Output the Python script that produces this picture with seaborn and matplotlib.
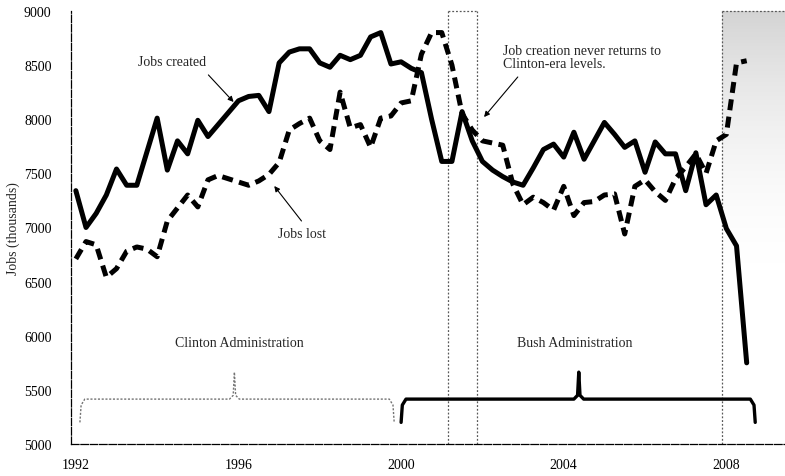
"""
Jobs created vs jobs lost, quarterly, 1992-2008
"""

import numpy as np
import pandas as pd
import seaborn as sns
import matplotlib
matplotlib.use("Agg")
import matplotlib.pyplot as plt

# quarterly observations, 1992Q1 .. 2008Q3 (thousands)
jobs_created = [
    7340, 7000, 7130, 7300, 7540, 7390, 7390, 7700,
    8010, 7530, 7800, 7680, 7990, 7840, 7950, 8060,
    8170, 8210, 8220, 8070, 8520, 8620, 8650, 8650,
    8520, 8480, 8590, 8550, 8590, 8760, 8800, 8510,
    8530, 8470, 8430, 8000, 7610, 7610, 8070, 7800,
    7610, 7530, 7470, 7420, 7390, 7550, 7720, 7770,
    7650, 7880, 7630, 7800, 7970, 7860, 7740, 7800,
    7510, 7790, 7680, 7680, 7340, 7690, 7210, 7300,
    6990, 6830, 5750,
]
jobs_lost = [
    6710, 6870, 6840, 6540, 6620, 6780, 6820, 6800,
    6730, 7060, 7180, 7300, 7190, 7440, 7480, 7450,
    7420, 7390, 7430, 7490, 7600, 7900, 7960, 8010,
    7800, 7720, 8250, 7920, 7950, 7740, 8010, 8030,
    8150, 8170, 8600, 8800, 8800, 8500, 8050, 7900,
    7800, 7780, 7760, 7400, 7210, 7280, 7230, 7160,
    7380, 7110, 7230, 7240, 7300, 7310, 6940, 7380,
    7440, 7330, 7250, 7450, 7560, 7680, 7500, 7800,
    7860, 8520, 8540,
]
start_year = 1992
year_ticks = [1992, 1996, 2000, 2004, 2008]
value_ticks = [5000, 5500, 6000, 6500, 7000, 7500, 8000, 8500, 9000]
recessions = [(2001.15, 2001.87), (2007.9, 2009.6)]
administrations = ["Clinton Administration", "Bush Administration"]

quarters = start_year + np.arange(len(jobs_created)) * 0.25
df = pd.DataFrame({"quarter": quarters, "created": jobs_created, "lost": jobs_lost})

sns.set_style("white")
plt.rcParams["font.family"] = ["Liberation Serif", "DejaVu Serif"]

fig = plt.figure(figsize=(7.85, 4.77), dpi=100)
ax = fig.add_axes([0.0904, 0.067, 0.91, 0.908])

# recession shading / boxes
top = 9000
for i, (r0, r1) in enumerate(recessions):
    ax.plot([r0, r0], [5000, top], color="0.35", lw=0.9, ls=(0, (1.5, 1.5)), zorder=1)
    ax.plot([r0, r1], [top, top], color="0.35", lw=0.9, ls=(0, (1.5, 1.5)),
            zorder=1, clip_on=False)
    if i == 0:
        ax.plot([r1, r1], [5000, top], color="0.35", lw=0.9, ls=(0, (1.5, 1.5)), zorder=1)
    else:
        vals = np.linspace(9000, 5000, 200)
        alpha = np.clip((vals - 6400) / 2600, 0, 1) ** 2.0 * 0.38
        img = np.zeros((200, 1, 4))
        img[..., :3] = 0.55
        img[:, 0, 3] = alpha
        ax.imshow(img, extent=[r0, r1, 5000, 9000], aspect="auto",
                  origin="upper", zorder=0.5, interpolation="bilinear")

sns.lineplot(data=df, x="quarter", y="created", color="black", lw=3.6, ax=ax, zorder=3)
sns.lineplot(data=df, x="quarter", y="lost", color="black", lw=3.6, ax=ax, zorder=3,
             linestyle=(0, (2.2, 1.3)))


def bracket(x0, x1, mid, color, lw, ls):
    xs = [x0, x0 + 0.03, x0 + 0.12, mid - 0.12, mid - 0.03, mid,
          mid + 0.03, mid + 0.12, x1 - 0.12, x1 - 0.03, x1]
    ys = [5200, 5360, 5415, 5415, 5450, 5664, 5450, 5415, 5415, 5360, 5200]
    ax.plot(xs, ys, color=color, lw=lw, ls=ls, solid_capstyle="round",
            solid_joinstyle="round", zorder=2)


bracket(1992.1, 1999.83, 1995.9, "0.45", 1.0, (0, (1.5, 1.2)))
bracket(2000.0, 2008.71, 2004.37, "black", 2.4, "-")

ax.text(1996.02, 5942, administrations[0], ha="center", va="center", fontsize=10)
ax.text(2004.27, 5942, administrations[1], ha="center", va="center", fontsize=10)

arrow = dict(arrowstyle="-|>", color="black", lw=0.8, mutation_scale=8,
             shrinkA=0, shrinkB=0)
ax.text(1994.36, 8529, "Jobs created", ha="center", va="center", fontsize=10)
ax.annotate("", xy=(1995.88, 8159), xytext=(1995.26, 8409), arrowprops=arrow)
ax.text(1997.57, 6940, "Jobs lost", ha="center", va="center", fontsize=10)
ax.annotate("", xy=(1996.88, 7383), xytext=(1997.55, 7060), arrowprops=arrow)
ax.text(2002.5, 8575, "Job creation never returns to\nClinton-era levels.",
        ha="left", va="center", fontsize=10, linespacing=1.05)
ax.annotate("", xy=(2002.04, 8020), xytext=(2002.87, 8390), arrowprops=arrow)

ax.set_xlim(1991.88, 2009.45)
ax.set_ylim(5000, 9000)
ax.set_xticks(year_ticks)
ax.set_xticks(range(1992, 2010), minor=True)
ax.set_yticks(value_ticks)
ax.tick_params(axis="both", which="both", direction="in", colors="black",
               labelsize=10, length=3, width=0.8)
ax.tick_params(axis="y", pad=14)
ax.tick_params(axis="x", pad=10)
ax.set_xlabel("")
ax.set_ylabel("Jobs (thousands)", fontsize=10)
ax.yaxis.set_label_coords(-0.072, 0.5)

for side in ["top", "right"]:
    ax.spines[side].set_visible(False)
for side in ["left", "bottom"]:
    ax.spines[side].set_color("black")
    ax.spines[side].set_linewidth(0.9)
    ax.spines[side].set_linestyle((0, (6, 1.5)))

fig.savefig("out.png", dpi=100)
